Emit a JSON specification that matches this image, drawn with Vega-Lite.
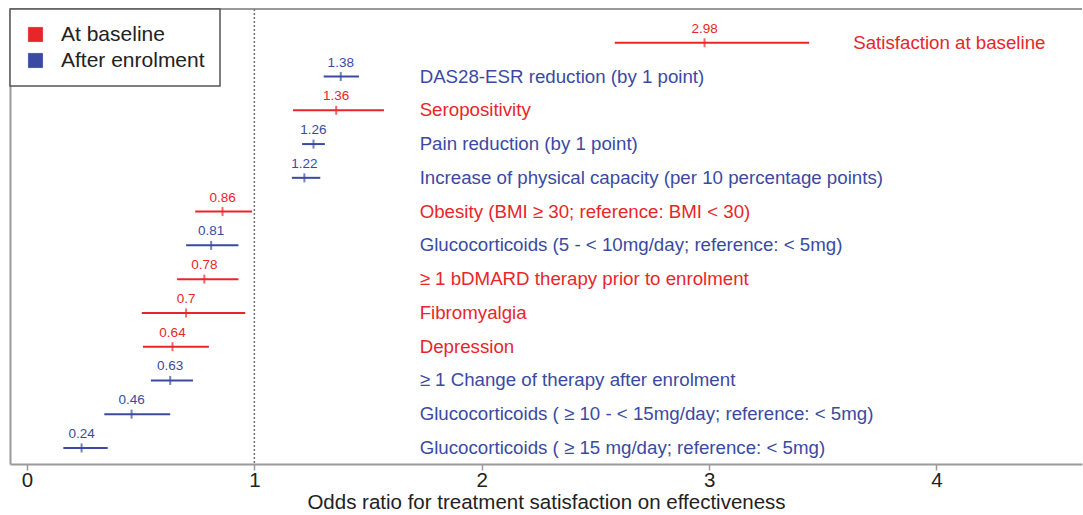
{
  "$schema": "https://vega.github.io/schema/vega-lite/v6.json",
  "width": 1083,
  "height": 515,
  "autosize": {"type": "fit", "contains": "padding"},
  "padding": {"left": 9, "top": 8, "right": 0, "bottom": 2},
  "background": "white",
  "config": {
    "view": {"stroke": null},
    "font": "Liberation Sans"
  },
  "data": {
    "values": [
      {"row": 1, "label": "Satisfaction at baseline", "group": "At baseline", "or": 2.98, "lo": 2.585, "hi": 3.44},
      {"row": 2, "label": "DAS28-ESR reduction (by 1 point)", "group": "After enrolment", "or": 1.38, "lo": 1.305, "hi": 1.46},
      {"row": 3, "label": "Seropositivity", "group": "At baseline", "or": 1.36, "lo": 1.17, "hi": 1.57},
      {"row": 4, "label": "Pain reduction (by 1 point)", "group": "After enrolment", "or": 1.26, "lo": 1.21, "hi": 1.31},
      {"row": 5, "label": "Increase of physical capacity (per 10 percentage points)", "group": "After enrolment", "or": 1.22, "lo": 1.165, "hi": 1.29},
      {"row": 6, "label": "Obesity (BMI ≥ 30; reference: BMI < 30)", "group": "At baseline", "or": 0.86, "lo": 0.74, "hi": 0.99},
      {"row": 7, "label": "Glucocorticoids (5 - < 10mg/day; reference: < 5mg)", "group": "After enrolment", "or": 0.81, "lo": 0.70, "hi": 0.93},
      {"row": 8, "label": "≥ 1 bDMARD therapy prior to enrolment", "group": "At baseline", "or": 0.78, "lo": 0.66, "hi": 0.93},
      {"row": 9, "label": "Fibromyalgia", "group": "At baseline", "or": 0.7, "lo": 0.505, "hi": 0.96},
      {"row": 10, "label": "Depression", "group": "At baseline", "or": 0.64, "lo": 0.51, "hi": 0.80},
      {"row": 11, "label": "≥ 1 Change of therapy after enrolment", "group": "After enrolment", "or": 0.63, "lo": 0.545, "hi": 0.73},
      {"row": 12, "label": "Glucocorticoids ( ≥ 10 - < 15mg/day; reference: < 5mg)", "group": "After enrolment", "or": 0.46, "lo": 0.34, "hi": 0.63},
      {"row": 13, "label": "Glucocorticoids ( ≥ 15 mg/day; reference: < 5mg)", "group": "After enrolment", "or": 0.24, "lo": 0.16, "hi": 0.355}
    ]
  },
  "layer": [
    {
      "mark": {"type": "rule", "strokeWidth": 2},
      "encoding": {
        "y": {
          "field": "row", "type": "quantitative",
          "scale": {"domain": [0, 13.475], "reverse": true, "nice": false, "zero": false},
          "axis": {"title": null, "labels": false, "ticks": false, "grid": false, "domain": true, "domainColor": "#9a9a9a", "domainWidth": 2, "minExtent": 0, "maxExtent": 0}
        },
        "x": {
          "field": "lo", "type": "quantitative",
          "scale": {"domain": [-0.0747, 4.64], "nice": false, "zero": false},
          "axis": {
            "values": [0, 1, 2, 3, 4], "format": "d", "grid": false,
            "domainColor": "#9a9a9a", "domainWidth": 2,
            "tickColor": "#9a9a9a", "tickSize": 6, "tickWidth": 1.5,
            "labelFontSize": 20.5, "labelColor": "#222222", "labelPadding": 0,
            "title": "Odds ratio for treatment satisfaction on effectiveness",
            "titleFontSize": 20.5, "titleFontWeight": "normal", "titleColor": "#222222", "titlePadding": 2
          }
        },
        "x2": {"field": "hi"},
        "color": {
          "field": "group", "type": "nominal",
          "scale": {"domain": ["At baseline", "After enrolment"], "range": ["#E8262A", "#3A4AA2"]},
          "legend": {
            "title": null, "orient": "top-left", "offset": 0,
            "symbolType": "square", "symbolSize": 200, "symbolStrokeColor": "#333333", "symbolStrokeWidth": 0.8,
            "labelFontSize": 21, "labelColor": "#222222", "labelOffset": 15,
            "padding": 15, "rowPadding": 4,
            "strokeColor": "#555555", "fillColor": "white", "cornerRadius": 0,
            "encode": {"legend": {"update": {"strokeWidth": {"value": 1.5}}}}
          }
        }
      }
    },
    {
      "data": {"values": [{"ref": "top"}]},
      "mark": {"type": "rule", "color": "#9a9a9a", "strokeWidth": 2},
      "encoding": {"y": {"datum": 0}}
    },
    {
      "data": {"values": [{"ref": "one"}]},
      "mark": {"type": "rule", "color": "#6f6f6f", "strokeWidth": 1.5, "strokeDash": [2, 2]},
      "encoding": {"x": {"datum": 1}}
    },
    {
      "mark": {"type": "tick", "orient": "vertical", "size": 9, "thickness": 2},
      "encoding": {
        "x": {"field": "or", "type": "quantitative"},
        "y": {"field": "row", "type": "quantitative"},
        "color": {"field": "group", "type": "nominal"}
      }
    },
    {
      "mark": {"type": "text", "fontSize": 13.5, "baseline": "alphabetic", "align": "center", "dy": -10},
      "encoding": {
        "x": {"field": "or", "type": "quantitative"},
        "y": {"field": "row", "type": "quantitative"},
        "text": {"field": "or", "type": "nominal"},
        "color": {"field": "group", "type": "nominal"}
      }
    },
    {
      "transform": [{"filter": "datum.row > 1"}],
      "mark": {"type": "text", "fontSize": 18.7, "baseline": "middle", "align": "left"},
      "encoding": {
        "x": {"datum": 1.727},
        "y": {"field": "row", "type": "quantitative"},
        "text": {"field": "label", "type": "nominal"},
        "color": {"field": "group", "type": "nominal"}
      }
    },
    {
      "transform": [{"filter": "datum.row == 1"}],
      "mark": {"type": "text", "fontSize": 18.7, "baseline": "middle", "align": "left"},
      "encoding": {
        "x": {"datum": 3.634},
        "y": {"field": "row", "type": "quantitative"},
        "text": {"field": "label", "type": "nominal"},
        "color": {"field": "group", "type": "nominal"}
      }
    }
  ]
}
